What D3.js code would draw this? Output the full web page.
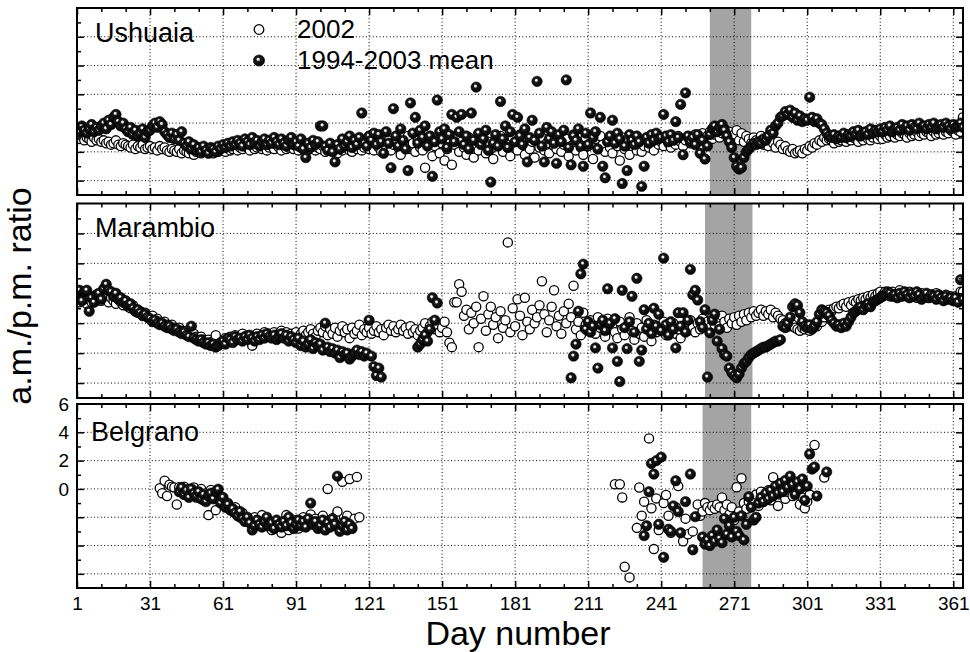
<!DOCTYPE html>
<html>
<head>
<meta charset="utf-8">
<script src="https://cdn.jsdelivr.net/npm/d3@7"></script>
<style>
  html, body { margin: 0; padding: 0; background: #fff; }
  svg { display: block; font-family: "Liberation Sans", Arial, sans-serif; }
</style>
</head>
<body>
<svg id="chart" width="970" height="652"></svg>
<script>
// ---- data ----
const stations = ['Ushuaia', 'Marambio', 'Belgrano'];
const legendLabels = ['2002', '1994-2003 mean'];
const xTickDays = [1, 31, 61, 91, 121, 151, 181, 211, 241, 271, 301, 331, 361];
const yTickLabels = [6, 4, 2, 0];
const yGridValues = [4, 2, 0, -2, -4, -6];
// shaded period (day numbers) for each station
const bandDays = [[261, 278], [259, 278.5], [258, 278]];

// Ushuaia, day 1..365
const ushuaia2002 = [
  -3.0,-3.1,-2.9,-3.2,-3.0,-3.1,-3.3,-3.0,-3.2,-3.1,
  -3.3,-3.2,-3.4,-3.3,-3.5,-3.4,-3.2,-3.5,-3.6,-3.4,
  -3.5,-3.6,-3.7,-3.5,-3.8,-3.6,-3.7,-3.5,-3.8,-3.7,
  -3.6,-3.8,-3.7,-3.9,-3.6,-3.8,-3.7,-3.9,-4.0,-3.8,
  -3.9,-4.0,-3.8,-4.1,-3.9,-4.0,-4.1,-3.9,-4.2,-4.0,
  -3.9,-4.1,-4.0,-3.8,-4.0,-3.9,-4.1,-3.8,-4.0,-3.9,
  -3.8,-4.0,-3.7,-3.9,-3.8,-3.6,-3.9,-3.7,-3.8,-3.6,
  -3.7,-3.9,-3.6,-3.8,-3.7,-3.5,-3.8,-3.6,-3.9,-3.7,
  -3.6,-3.8,-3.5,-3.7,-3.9,-3.6,-3.8,-3.7,-3.5,-3.8,
  -3.6,-3.9,-3.7,-3.8,-4.0,-3.6,-3.8,-3.5,-3.9,-3.7,
  -3.8,-3.6,-4.0,-3.7,-3.9,-3.5,-3.8,-4.1,-3.6,-3.9,
  -3.7,-3.5,-3.9,-4.0,-3.6,-3.8,-3.4,-3.9,-3.7,-3.6,
  -3.8,-3.5,-3.9,-3.3,-3.7,-4.0,-3.4,-3.8,-3.2,-3.9,
  -3.5,-3.1,-3.7,-4.2,-3.3,-3.6,-2.9,-3.8,-3.4,-4.0,
  -3.2,-3.7,-3.9,-5.1,-3.5,-3.0,-4.3,-3.6,-3.2,-4.1,
  -3.4,-4.6,-3.8,-3.1,-4.9,-3.5,-2.9,-4.0,-3.3,-3.7,
  -4.2,-3.0,-3.6,-4.4,-3.2,-3.9,-2.8,-3.5,-4.1,-3.3,
  -3.8,-4.5,-3.1,-3.6,-2.9,-4.0,-3.4,-3.7,-4.3,-3.0,
  -3.6,-3.9,-2.8,-3.5,-4.2,-3.1,-3.8,-3.3,-4.4,-3.2,
  -3.7,-3.0,-3.9,-3.4,-4.1,-2.9,-3.6,-3.8,-3.2,-4.0,
  -3.5,-3.1,-4.3,-3.6,-2.8,-3.9,-3.3,-3.7,-4.2,-3.0,
  -3.6,-3.4,-4.5,-3.1,-3.8,-2.9,-3.5,-4.0,-3.3,-3.7,
  -4.1,-3.2,-3.6,-4.6,-3.0,-3.8,-3.4,-4.2,-3.1,-3.5,
  -3.9,-3.3,-4.0,-3.6,-3.1,-3.7,-3.4,-3.9,-3.2,-3.5,
  -3.3,-3.6,-3.0,-3.4,-3.7,-3.1,-3.5,-2.9,-3.3,-3.6,
  -3.2,-3.0,-3.4,-3.1,-2.8,-3.3,-3.0,-2.7,-3.2,-2.9,
  -2.6,-3.1,-2.8,-2.5,-3.0,-2.7,-2.4,-2.9,-2.6,-3.1,
  -2.8,-2.5,-3.2,-2.7,-3.3,-2.9,-3.1,-3.4,-3.0,-3.2,
  -3.3,-2.9,-3.5,-3.1,-3.6,-3.2,-3.4,-3.7,-3.3,-3.5,
  -3.8,-3.6,-3.9,-4.0,-3.8,-4.1,-4.0,-3.9,-4.1,-3.8,
  -3.9,-3.6,-3.7,-3.4,-3.5,-3.2,-3.3,-3.0,-3.2,-3.1,
  -3.2,-3.4,-3.1,-3.3,-3.2,-3.0,-3.3,-3.1,-3.2,-3.0,
  -3.1,-3.3,-3.0,-3.2,-2.9,-3.1,-3.2,-3.0,-2.8,-3.1,
  -2.9,-3.1,-2.8,-3.0,-2.9,-2.7,-3.0,-2.8,-2.9,-2.7,
  -2.8,-3.0,-2.7,-2.9,-2.8,-2.6,-2.9,-2.7,-2.8,-2.6,
  -2.7,-2.9,-2.6,-2.8,-2.7,-2.5,-2.8,-2.6,-2.7,-2.5,
  -2.6,-2.8,-2.5,-2.6,-1.6
];
const ushuaiaMean = [
  -2.3,-2.6,-2.2,-2.5,-2.7,-2.4,-2.1,-2.6,-2.3,-2.5,
  -2.2,-2.0,-2.4,-1.8,-2.1,-1.6,-1.4,-1.9,-2.2,-2.0,
  -2.4,-2.6,-2.3,-2.8,-2.5,-2.9,-2.7,-2.4,-3.0,-2.6,
  -2.5,-2.2,-2.0,-2.3,-1.9,-2.1,-2.6,-2.8,-3.0,-2.7,
  -3.1,-2.8,-3.2,-2.6,-3.4,-3.6,-3.3,-3.8,-3.5,-3.9,
  -3.7,-4.0,-3.6,-3.9,-4.1,-3.7,-3.8,-4.0,-3.6,-3.8,
  -3.5,-3.7,-3.4,-3.6,-3.3,-3.5,-3.2,-3.4,-3.6,-3.1,
  -3.3,-3.5,-3.0,-3.4,-3.2,-3.6,-3.3,-3.1,-3.5,-3.2,
  -3.4,-3.0,-3.3,-3.5,-3.1,-3.4,-3.6,-3.2,-3.0,-3.5,
  -3.3,-3.6,-3.1,-3.8,-4.4,-3.4,-3.7,-3.2,-3.5,-3.3,
  -2.2,-2.2,-3.6,-3.9,-3.4,-4.0,-4.7,-3.5,-3.8,-3.1,
  -3.6,-3.3,-2.9,-3.7,-3.2,-3.5,-3.0,-1.3,-3.4,-3.6,
  -2.9,-3.2,-2.7,-3.5,-2.8,-3.3,-4.1,-2.6,-3.4,-5.1,
  -1.0,-2.9,-3.6,-2.4,-3.2,-3.8,-5.3,-0.6,-2.7,-1.6,
  -3.4,-2.5,-3.0,-2.2,-3.6,-2.9,-5.7,-3.3,-0.4,-2.6,
  -3.1,-2.4,-3.7,-2.8,-1.4,-3.3,-1.6,-2.6,-1.4,-3.5,
  -2.9,-3.8,-1.3,-3.2,0.5,-2.7,-3.5,-3.1,-2.5,-3.9,
  -6.1,-3.4,-2.8,-3.6,-0.5,-3.1,-2.2,-3.7,-2.6,-1.4,
  -3.3,-1.6,-2.9,-3.5,-2.4,-4.7,-3.0,-1.8,-3.2,0.9,
  -2.7,-3.6,-4.7,-2.3,-3.1,-2.6,-3.4,-4.8,-2.8,-3.3,
  -2.5,1.0,-3.7,-4.9,-2.9,-3.2,-2.4,-3.6,-5.0,-2.7,
  -3.5,-1.3,-3.0,-2.6,-3.8,-1.6,-5.0,-5.8,-3.3,-2.9,
  -1.8,-3.4,-2.7,-3.1,-6.2,-3.6,-5.3,-2.8,-3.2,-3.5,
  -2.9,-3.3,-6.4,-5.0,-3.0,-3.4,-2.8,-3.2,-2.7,-3.1,
  -3.0,-1.4,-2.9,-3.3,-2.8,-3.2,-1.9,-3.0,-0.7,-4.2,
  0.1,-2.9,-3.3,-3.0,-3.5,-2.8,-4.1,-3.2,-4.5,-3.6,
  -2.8,-2.4,-2.2,-2.6,-2.3,-2.1,-2.5,-2.9,-3.3,-3.7,
  -4.4,-5.0,-5.2,-5.1,-4.4,-4.0,-3.8,-3.6,-3.4,-3.5,
  -3.3,-3.4,-3.1,-3.2,-2.9,-2.5,-2.7,-2.2,-2.0,-1.6,
  -1.5,-1.2,-1.4,-1.1,-1.6,-1.3,-1.8,-1.5,-1.9,-1.7,
  -1.8,-0.2,-1.6,-1.9,-1.7,-2.0,-2.1,-2.4,-2.7,-2.9,
  -3.0,-2.8,-3.1,-2.9,-3.0,-2.7,-3.0,-2.8,-2.9,-2.6,
  -2.8,-2.5,-2.9,-2.7,-2.6,-2.8,-2.4,-2.7,-2.5,-2.6,
  -2.4,-2.6,-2.3,-2.5,-2.2,-2.6,-2.4,-2.3,-2.5,-2.1,
  -2.4,-2.2,-2.5,-2.1,-2.3,-2.4,-2.0,-2.3,-2.2,-2.4,
  -2.1,-2.3,-2.0,-2.4,-2.2,-2.1,-2.3,-2.0,-2.2,-2.4,
  -2.1,-2.3,-2.2,-2.0,-2.3
];

// Marambio, day 1..365
const marambio2002 = [
  -0.4,-0.6,-0.3,-0.5,-0.7,-0.4,-0.6,-0.2,-0.5,-0.3,
  -0.5,-0.2,-0.4,-0.6,-0.3,-0.5,-0.7,-0.4,-0.6,-0.8,
  -0.7,-0.9,-1.0,-0.8,-1.1,-1.3,-1.2,-1.4,-1.3,-1.5,
  -1.6,-1.5,-1.8,-1.7,-1.9,-2.0,-1.9,-2.1,-2.2,-2.1,
  -2.3,-2.4,-2.3,-2.5,-2.6,-2.5,-2.7,-2.8,-2.7,-2.9,
  -3.0,-2.9,-3.1,-3.2,-3.1,-3.3,-3.2,-2.8,-3.4,-3.3,
  -3.2,-3.0,-3.1,-2.9,-3.0,-2.8,-3.1,-2.9,-2.7,-3.0,
  -2.8,-3.0,-3.5,-2.9,-2.7,-3.0,-2.8,-2.6,-2.9,-2.7,
  -2.8,-2.6,-2.9,-2.7,-2.5,-2.8,-2.6,-2.9,-2.7,-2.8,
  -2.6,-2.9,-2.7,-2.5,-2.8,-2.6,-2.4,-2.7,-2.9,-2.5,
  -2.3,-2.6,-2.2,-2.8,-2.4,-2.7,-2.3,-2.9,-2.5,-2.2,
  -2.6,-2.4,-3.0,-2.3,-2.7,-2.5,-2.1,-2.8,-2.4,-2.6,
  -2.3,-2.7,-2.5,-2.2,-2.6,-2.4,-2.8,-2.3,-2.1,-2.5,
  -2.2,-2.6,-2.4,-2.1,-2.5,-2.3,-2.7,-2.2,-2.6,-2.4,
  -2.8,-2.5,-2.3,-2.0,-2.6,-2.2,-1.9,-2.4,-2.1,-2.6,
  -2.3,-1.9,-2.6,-3.3,-3.6,-0.6,-0.6,0.6,0.1,-1.5,
  -1.1,-2.4,-1.3,-2.0,-0.9,-3.6,-1.7,-0.2,-2.5,-1.4,
  -0.9,-2.1,-1.6,-3.0,-1.2,-2.3,-1.8,3.4,-2.6,-1.0,
  -2.2,-0.4,-1.5,-2.8,-0.3,-1.9,-2.4,-1.1,-2.0,-1.6,
  -0.8,0.8,-1.4,-2.6,-1.8,-0.9,0.2,-2.2,-1.5,-2.7,
  -1.2,-2.0,-0.7,-1.6,0.5,-2.4,-1.9,-2.8,-1.3,-2.1,
  -2.5,-1.8,-2.2,-2.7,-1.6,-2.3,-2.0,-2.9,-1.7,-2.4,
  -2.1,-2.6,-3.0,-1.9,-2.4,-2.8,-2.2,-1.6,-2.5,-3.1,
  -2.0,-2.7,-2.3,-2.9,-1.8,-2.4,-3.2,-2.1,-2.6,-2.2,
  -2.5,-1.9,-2.8,-2.3,-2.6,-2.0,-2.7,-2.4,-3.0,-2.2,
  -2.1,-2.5,-1.8,-2.3,-2.6,-2.0,-2.4,-1.7,-2.2,-1.9,
  -2.3,-1.6,-2.1,-1.8,-2.2,-1.5,-1.9,-2.3,-1.7,-2.0,
  -1.6,-2.1,-1.5,-1.9,-1.4,-1.8,-1.3,-1.6,-1.2,-1.5,
  -1.3,-1.1,-1.5,-1.2,-1.4,-1.1,-1.6,-1.3,-1.5,-1.7,
  -1.8,-2.0,-1.9,-2.2,-2.1,-2.3,-2.4,-2.5,-2.3,-2.4,
  -2.2,-2.5,-2.3,-2.1,-2.2,-1.9,-1.9,-1.6,-1.4,-1.1,
  -1.2,-1.0,-0.9,-1.0,-0.8,-0.7,-0.9,-0.6,-0.8,-0.5,
  -0.6,-0.4,-0.5,-0.3,-0.4,-0.2,-0.3,-0.1,-0.2,0.0,
  0.1,-0.1,0.1,0.0,-0.2,0.1,-0.1,0.0,0.2,-0.1,
  0.0,-0.2,0.1,-0.1,0.0,-0.3,-0.1,0.0,-0.2,-0.1,
  -0.3,-0.1,-0.2,0.0,-0.3,-0.2,-0.4,-0.1,-0.3,-0.2,
  -0.4,-0.2,-0.3,0.1,0.1
];
const marambioMean = [
  -0.2,0.2,-0.5,0.1,0.2,-1.2,-0.3,-0.6,-0.1,0.0,
  -0.4,0.3,0.6,0.2,0.1,-0.2,0.0,-0.4,-0.3,-0.6,
  -0.5,-0.8,-0.7,-1.0,-1.2,-1.1,-1.3,-1.5,-1.4,-1.6,
  -1.7,-1.9,-1.8,-2.0,-2.1,-2.0,-2.2,-2.3,-2.2,-2.4,
  -2.5,-2.4,-2.6,-2.7,-2.6,-2.8,-2.9,-2.2,-3.0,-3.1,
  -3.2,-3.1,-3.3,-3.4,-3.3,-3.5,-3.4,-3.6,-3.5,-3.3,
  -3.2,-3.4,-3.0,-3.1,-3.3,-2.9,-3.1,-3.0,-3.2,-2.9,
  -3.1,-2.8,-3.0,-3.2,-2.9,-3.1,-2.8,-3.0,-2.7,-2.9,
  -3.0,-2.8,-3.1,-2.9,-2.7,-3.0,-2.8,-3.2,-2.9,-3.1,
  -3.3,-3.0,-3.5,-3.2,-3.6,-3.4,-3.1,-3.7,-3.3,-3.5,
  -3.4,-3.8,-2.0,-3.6,-3.9,-3.7,-4.0,-3.8,-4.3,-3.9,
  -4.1,-4.0,-4.4,-4.2,-4.0,-3.8,-4.1,-3.9,-4.2,-4.0,
  -1.8,-4.2,-4.9,-5.5,-5.0,-5.6,null,null,null,null,
  null,null,null,null,null,null,null,null,null,null,
  -3.6,-3.4,-3.1,-2.8,-3.2,-2.4,-0.3,-1.8,-0.65,null,
  null,null,null,null,null,null,null,null,null,null,
  null,null,null,null,null,null,null,null,null,null,
  null,null,null,null,null,null,null,null,null,null,
  null,null,null,null,null,null,null,null,null,null,
  null,null,null,null,null,null,null,null,null,null,
  null,null,null,-5.65,-4.2,-3.4,-1.2,1.3,1.95,-2.4,
  -1.9,-2.6,-2.2,-3.65,-5.0,-2.1,-1.8,-2.5,0.3,-2.0,
  -3.65,-1.7,-4.55,-5.9,0.2,-2.3,-3.7,-1.9,-0.2,-2.6,
  1.0,-4.55,-3.8,-1.1,-2.4,-2.0,-2.7,-1.0,-2.2,-1.4,
  -2.5,2.35,-2.1,-2.8,-1.9,-2.4,-3.65,-1.3,-2.2,-1.3,
  -2.6,-1.8,1.6,-0.1,0.2,-0.45,-1.9,-2.3,-1.1,-5.6,
  -2.65,-1.8,-1.4,-3.2,-2.4,-3.7,-4.1,-4.2,-5.0,-5.3,
  -5.5,-5.65,-5.4,-5.0,-4.7,-4.55,-4.3,-4.1,-4.0,-3.9,
  -3.8,-3.7,-3.6,-3.6,-3.5,-3.4,-3.3,-3.2,-3.2,-3.1,
  -2.2,-2.3,-2.0,-1.6,-0.9,-0.7,-0.8,-1.3,-1.9,-2.2,
  -2.3,-2.1,-2.4,-2.2,-1.9,-1.4,-1.1,-1.2,-1.3,-1.5,
  -1.8,-2.0,-2.2,-2.1,-2.3,-2.0,-2.2,-1.9,-1.6,-1.3,
  -1.2,-1.0,-0.9,-1.1,-0.8,-0.7,-0.9,-0.6,-0.5,-0.4,
  -0.3,-0.2,-0.1,0.1,0.0,-0.2,-0.1,-0.3,0.0,-0.2,
  0.1,-0.1,-0.3,0.0,-0.2,0.1,-0.1,-0.4,-0.2,0.0,
  -0.3,-0.1,-0.2,-0.4,-0.1,-0.3,-0.5,-0.2,-0.4,-0.3,
  -0.5,-0.3,-0.6,0.9,-0.4
];

// Belgrano, two observing periods
const belgrano2002EarlyStart = 35;
const belgrano2002Early = [
  0.05,-0.3,0.58,-0.5,0.3,0.16,0.1,-1.1,0.12,-0.2,
  0.15,-0.3,0.0,-0.4,0.1,-0.6,-0.2,0.0,-0.8,-0.3,
  -1.85,-0.07,-0.5,-1.5,-0.3,-0.6,-0.8,-1.2,-1.0,-1.4,
  -1.6,-1.3,-1.8,-2.0,-1.7,-2.2,-2.1,-2.4,-2.3,-2.0,
  -2.5,-2.3,-1.85,-2.5,-2.2,-2.7,-2.9,-2.4,-2.6,-2.8,
  -3.1,-2.5,-1.85,-2.9,-2.3,-2.6,-2.2,-2.8,-2.4,-2.0,
  -2.6,-2.3,-1.8,-2.5,-2.1,-2.7,-2.4,-1.9,-2.5,0.0,
  -2.2,-2.6,-2.0,-1.6,-2.8,0.5,-2.4,-1.9,0.7,-2.7,
  -2.1,0.85,-2.0
];
const belgranoMeanEarlyStart = 43;
const belgranoMeanEarly = [
  -0.2,0.1,-0.4,-0.1,-0.6,0.0,-0.3,-0.5,-0.2,-0.7,
  -0.4,-0.9,-0.5,-0.3,-0.7,-0.2,-0.02,-1.0,-0.6,-1.3,
  -1.1,-1.5,-1.4,-1.7,-1.9,-1.6,-2.1,-2.3,-2.0,-2.4,
  -2.9,-2.6,-2.2,-2.5,-2.7,-2.3,-2.0,-2.6,-2.4,-2.8,
  -2.2,-2.5,-2.7,-2.3,-2.6,-2.0,-2.4,-2.8,-2.5,-2.2,
  -2.6,-2.3,-2.7,-2.1,-1.0,-2.5,-2.3,-2.8,-2.6,-2.2,
  -2.9,-2.4,-2.7,-2.1,-2.5,0.9,-3.0,-2.6,-2.3,-2.9,
  -2.5,-2.8
];
const belgrano2002LateStart = 222;
const belgrano2002Late = [
  0.33,null,0.33,-0.6,-5.5,null,-6.25,null,null,-2.75,
  0.1,-1.9,-0.9,null,3.57,-1.37,-4.25,-0.67,-2.9,null,
  -1.0,-0.43,-1.9,-3.1,null,-1.3,0.2,null,-3.7,-2.1,
  -3.2,null,-3.0,null,-1.1,-1.9,-1.6,-1.0,-1.3,-1.5,
  -1.2,-1.4,-1.1,-1.3,-0.6,-1.5,-1.1,-1.8,-1.3,-2.2,
  0.12,-1.6,0.75,-1.0,-1.4,-0.9,-1.2,-0.8,-0.4,-1.2,
  -0.2,-0.9,-0.5,-0.1,-0.8,0.82,-0.3,-1.2,-0.4,0.0,
  -0.7,-0.2,0.3,-0.5,0.1,-0.3,-1.1,-0.6,-1.37,-0.9,
  -0.4,null,3.1,null,null,null,0.8,null,null
];
const belgranoMeanLateStart = 234;
const belgranoMeanLate = [
  -3.3,-2.6,-0.2,1.8,1.05,2.0,-2.5,2.25,-4.83,null,
  -2.85,-3.0,-1.2,0.58,-1.6,-3.1,null,-0.9,null,1.05,
  -4.3,-1.96,null,null,-3.4,-3.9,-3.6,-4.0,-3.3,-3.7,
  -2.9,-3.5,-3.8,-2.1,-3.2,-2.6,-3.4,-2.0,-3.0,-3.3,
  -1.9,-3.6,-2.5,-0.55,-1.3,-2.2,-2.0,-1.0,-0.6,-0.9,
  -0.3,-0.7,-0.1,-0.5,0.2,-0.3,0.4,-0.2,0.6,0.1,
  0.9,0.3,-0.4,0.5,0.0,0.7,-0.8,0.2,2.47,1.4,
  1.55,-0.5,null,null,null,1.2
];

// ---- layout ----
const panelLayout = [
  { top: 8, bottom: 195, labelX: 95, labelY: 42 },
  { top: 203.5, bottom: 398, labelX: 95, labelY: 237 },
  { top: 404, bottom: 588, labelX: 91, labelY: 441 }
];
const plotLeft = 77;
const plotRight = 963;
const fontFamily = '"Liberation Sans", Arial, sans-serif';

function toPoints(values, startDay) {
  return values
    .map((value, i) => ({ day: startDay + i, value }))
    .filter((p) => p.value !== null);
}

const series = [
  { open: toPoints(ushuaia2002, 1), mean: toPoints(ushuaiaMean, 1) },
  { open: toPoints(marambio2002, 1), mean: toPoints(marambioMean, 1) },
  {
    open: toPoints(belgrano2002Early, belgrano2002EarlyStart).concat(toPoints(belgrano2002Late, belgrano2002LateStart)),
    mean: toPoints(belgranoMeanEarly, belgranoMeanEarlyStart).concat(toPoints(belgranoMeanLate, belgranoMeanLateStart))
  }
];

const svg = d3.select('#chart');
const defs = svg.append('defs');

const ball = defs.append('radialGradient').attr('id', 'ball')
  .attr('cx', 0.45).attr('cy', 0.45).attr('r', 0.6).attr('fx', 0.42).attr('fy', 0.38);
ball.append('stop').attr('offset', '0%').attr('stop-color', '#fff');
ball.append('stop').attr('offset', '14%').attr('stop-color', '#eee');
ball.append('stop').attr('offset', '32%').attr('stop-color', '#1a1a1a');
ball.append('stop').attr('offset', '100%').attr('stop-color', '#000');

const x = d3.scaleLinear().domain([1, 365]).range([plotLeft, plotRight]);
const xMinorDays = d3.range(1, 366, 10).filter((d) => !xTickDays.includes(d));
const yMinorValues = [5, 3, 1, -1, -3, -5];

stations.forEach((name, i) => {
  const layout = panelLayout[i];
  const y = d3.scaleLinear().domain([-7, 6]).range([layout.bottom, layout.top]);
  const g = svg.append('g').attr('class', 'panel');
  const clipId = `clip-${i}`;

  defs.append('clipPath').attr('id', clipId).append('rect')
    .attr('x', plotLeft).attr('y', layout.top)
    .attr('width', plotRight - plotLeft).attr('height', layout.bottom - layout.top);

  // shaded period
  g.append('rect')
    .attr('x', x(bandDays[i][0]))
    .attr('y', layout.top)
    .attr('width', x(bandDays[i][1]) - x(bandDays[i][0]))
    .attr('height', layout.bottom - layout.top)
    .attr('fill', '#a4a4a4');

  // dotted grid
  const grid = g.append('g').attr('stroke', '#000').attr('stroke-width', 1).attr('stroke-dasharray', '1,2.4');
  grid.selectAll('line.v').data(xTickDays.slice(1)).join('line')
    .attr('class', 'v')
    .attr('x1', (d) => x(d)).attr('x2', (d) => x(d))
    .attr('y1', layout.top).attr('y2', layout.bottom);
  grid.selectAll('line.h').data(yGridValues).join('line')
    .attr('class', 'h')
    .attr('x1', plotLeft).attr('x2', plotRight)
    .attr('y1', (d) => y(d)).attr('y2', (d) => y(d));

  // points
  const pts = g.append('g').attr('clip-path', `url(#${clipId})`);
  pts.selectAll('circle.open').data(series[i].open).join('circle')
    .attr('class', 'open')
    .attr('cx', (d) => x(d.day)).attr('cy', (d) => y(d.value))
    .attr('r', 4.6)
    .attr('fill', '#fff').attr('stroke', '#000').attr('stroke-width', 1.3);
  pts.selectAll('circle.mean').data(series[i].mean).join('circle')
    .attr('class', 'mean')
    .attr('cx', (d) => x(d.day)).attr('cy', (d) => y(d.value))
    .attr('r', 5.2)
    .attr('fill', 'url(#ball)').attr('stroke', '#000').attr('stroke-width', 0.6);

  // ticks, all pointing inward
  const tickStyle = (sel) => {
    sel.select('.domain').remove();
    sel.selectAll('line').attr('stroke', '#000').attr('stroke-width', 1.5);
  };
  g.append('g').attr('transform', `translate(0,${layout.top})`)
    .call(d3.axisBottom(x).tickValues(xTickDays).tickSize(7).tickFormat('')).call(tickStyle);
  g.append('g').attr('transform', `translate(0,${layout.top})`)
    .call(d3.axisBottom(x).tickValues(xMinorDays).tickSize(4).tickFormat('')).call(tickStyle);
  g.append('g').attr('transform', `translate(0,${layout.bottom})`)
    .call(d3.axisTop(x).tickValues(xTickDays).tickSize(7).tickFormat('')).call(tickStyle);
  g.append('g').attr('transform', `translate(0,${layout.bottom})`)
    .call(d3.axisTop(x).tickValues(xMinorDays).tickSize(4).tickFormat('')).call(tickStyle);
  g.append('g').attr('transform', `translate(${plotLeft},0)`)
    .call(d3.axisRight(y).tickValues(yGridValues).tickSize(7).tickFormat('')).call(tickStyle);
  g.append('g').attr('transform', `translate(${plotLeft},0)`)
    .call(d3.axisRight(y).tickValues(yMinorValues).tickSize(4).tickFormat('')).call(tickStyle);
  g.append('g').attr('transform', `translate(${plotRight},0)`)
    .call(d3.axisLeft(y).tickValues(yGridValues).tickSize(7).tickFormat('')).call(tickStyle);
  g.append('g').attr('transform', `translate(${plotRight},0)`)
    .call(d3.axisLeft(y).tickValues(yMinorValues).tickSize(4).tickFormat('')).call(tickStyle);

  // frame
  g.append('rect')
    .attr('x', plotLeft).attr('y', layout.top)
    .attr('width', plotRight - plotLeft).attr('height', layout.bottom - layout.top)
    .attr('fill', 'none').attr('stroke', '#000').attr('stroke-width', 2);

  g.append('text')
    .attr('x', layout.labelX).attr('y', layout.labelY)
    .attr('font-size', 27).attr('fill', '#000')
    .text(name);

  // value labels only on the lowest panel
  if (i === stations.length - 1) {
    const yLab = g.append('g').attr('transform', `translate(${plotLeft},0)`)
      .call(d3.axisLeft(y).tickValues(yTickLabels).tickSize(0).tickPadding(8).tickFormat(d3.format('d')));
    yLab.select('.domain').remove();
    yLab.attr('font-family', fontFamily).attr('font-size', 19);
    yLab.selectAll('text').attr('fill', '#000');

    const xLab = g.append('g').attr('transform', `translate(0,${layout.bottom})`)
      .call(d3.axisBottom(x).tickValues(xTickDays).tickSize(0).tickPadding(9).tickFormat(d3.format('d')));
    xLab.select('.domain').remove();
    xLab.attr('font-family', fontFamily).attr('font-size', 19);
    xLab.selectAll('text').attr('fill', '#000');
  }
});

// legend inside the top panel
const legend = svg.append('g').attr('class', 'legend');
legend.append('circle').attr('cx', 259).attr('cy', 29.5).attr('r', 4.8)
  .attr('fill', '#fff').attr('stroke', '#000').attr('stroke-width', 1.3);
legend.append('circle').attr('cx', 259).attr('cy', 60.5).attr('r', 5.6)
  .attr('fill', 'url(#ball)').attr('stroke', '#000').attr('stroke-width', 0.6);
legend.selectAll('text').data(legendLabels).join('text')
  .attr('x', 297).attr('y', (d, i) => 38 + i * 30.5)
  .attr('font-size', 26).attr('fill', '#000')
  .text((d) => d);

// axis titles
svg.append('text')
  .attr('x', 518).attr('y', 645)
  .attr('text-anchor', 'middle').attr('font-size', 34).attr('fill', '#000')
  .text('Day number');
svg.append('text')
  .attr('transform', 'translate(31,296) rotate(-90)')
  .attr('text-anchor', 'middle').attr('font-size', 34).attr('fill', '#000')
  .text('a.m./p.m. ratio');
</script>
</body>
</html>
